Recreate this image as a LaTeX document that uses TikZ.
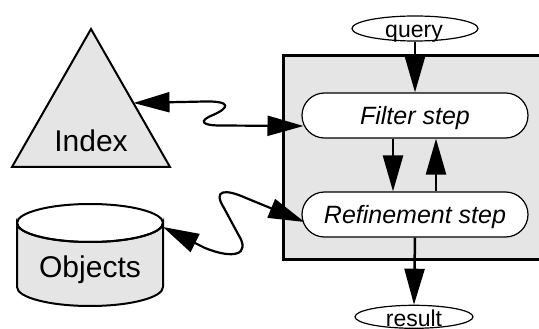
\documentclass[tikz,border=0pt]{standalone}
\usepackage{fontspec}
\setmainfont{Liberation Sans}
\usetikzlibrary{arrows.meta,shapes.geometric}
\begin{document}
\begin{tikzpicture}[x=1pt,y=-1pt,
  tipA/.tip={Triangle[length=36pt,width=20pt]},
  arr/.style={line width=2.5pt,-tipA},
  biarr/.style={line width=2.2pt,tipA-tipA},
  stepbox/.style={draw,line width=1.2pt,fill=white,rectangle,rounded corners=22.5pt,
    minimum width=226pt,minimum height=45pt,inner sep=0pt,
    font=\fontsize{25}{30}\selectfont\itshape,text depth=0pt},
  ell/.style={draw,line width=1.2pt,fill=white,ellipse,inner sep=0pt},
  bigtext/.style={font=\fontsize{30}{36}\selectfont,inner sep=0pt},
  smalltext/.style={font=\fontsize{23}{27}\selectfont,inner sep=0pt},
  solid3d/.style={fill=gray!20,draw=black,line width=2pt,line join=miter}]
\useasboundingbox (0,0) rectangle (539,329);
\fill[white] (0,0) rectangle (539,329);
% container
\draw[fill=gray!20,line width=3pt] (283.5,56) rectangle (548,259.5);
% index triangle
\draw[solid3d] (91,29) -- (170,167) -- (12,167) -- cycle;
\node[bigtext,anchor=base] (index) at (91,152) {Index};
% objects cylinder
\draw[solid3d] (17,223) -- (17,287) arc[start angle=180,end angle=0,x radius=73,y radius=19]
  -- (163,223) arc[start angle=0,end angle=180,x radius=73,y radius=19] -- cycle;
\draw[line width=2pt] (90,223) ellipse[x radius=73,y radius=19];
\node[bigtext,anchor=base] (objects) at (90,277) {Objects};
% steps
\node[stepbox] (filter) at (415,115.5) {Filter step};
\node[stepbox] (refine) at (415,214.5) {Refinement step};
% query / result
\node[ell,minimum width=126pt,minimum height=25pt] (query) at (415,28.5) {};
\node[smalltext,anchor=base] (qtext) at (414,38) {query};
\node[ell,minimum width=118pt,minimum height=23pt] (result) at (414,316.8) {};
\node[smalltext,anchor=base] (rtext) at (414,326) {result};
% straight arrows
\draw[arr] (query.south) -- (filter.north);
\draw[arr] (refine.south) -- (result.north);
\draw[arr] ([xshift=-22pt]filter.south) -- ([xshift=-22pt]refine.north);
\draw[arr] ([xshift=21pt]refine.north) -- ([xshift=21pt]filter.south);
% wiggly connectors
\coordinate (ia) at (133.5,103);
\coordinate (fa) at (303.5,126);
\draw[biarr] (ia) -- (205,101.5) .. controls (232,101) and (229,108) .. (213,115)
  .. controls (198,121) and (202,125.5) .. (220,125.5) -- (fa);
\coordinate (oa) at (163,227);
\coordinate (ra) at (304.5,222);
\draw[biarr] (oa) -- (205,248) .. controls (232,259) and (252,256) .. (238,234)
  -- (224,208) .. controls (212,189) and (226,189) .. (246,198) -- (ra);
\end{tikzpicture}
\end{document}
